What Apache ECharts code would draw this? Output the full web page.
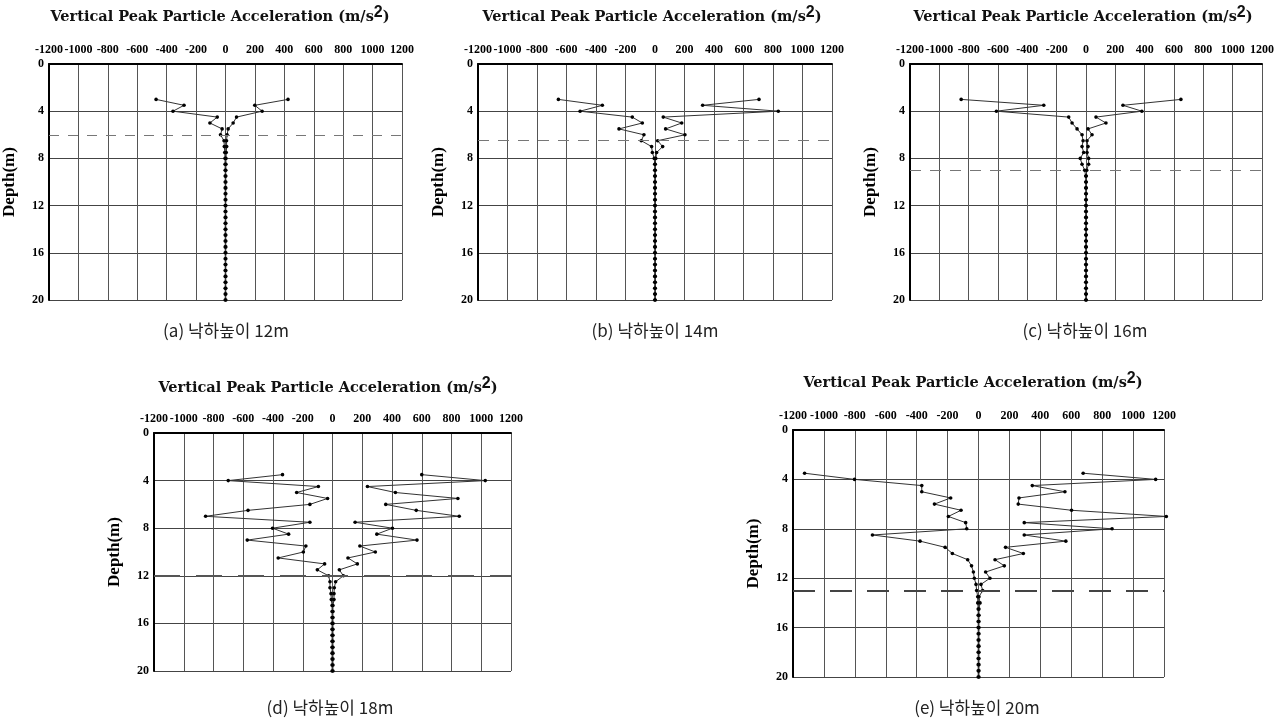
<!DOCTYPE html>
<html>
<head>
<meta charset="utf-8">
<script src="https://cdn.jsdelivr.net/npm/echarts@6/dist/echarts.min.js"></script>
<style>
html,body{margin:0;padding:0;background:#fff;}
#chart{width:1285px;height:724px;}
</style>
</head>
<body>
<div id="chart"></div>
<script>
// ---------- data ----------
const xTicks = [-1200, -1000, -800, -600, -400, -200, 0, 200, 400, 600, 800, 1000, 1200];
const depthTicks = [0, 4, 8, 12, 16, 20];

const depthsFrom3 = [3, 3.5, 4, 4.5, 5, 5.5, 6, 6.5, 7, 7.5, 8, 8.5, 9, 9.5, 10, 10.5, 11, 11.5, 12, 12.5, 13, 13.5, 14, 14.5, 15, 15.5, 16, 16.5, 17, 17.5, 18, 18.5, 19, 19.5, 20];
const depthsFrom35 = [3.5, 4, 4.5, 5, 5.5, 6, 6.5, 7, 7.5, 8, 8.5, 9, 9.5, 10, 10.5, 11, 11.5, 12, 12.5, 13, 13.5, 14, 14.5, 15, 15.5, 16, 16.5, 17, 17.5, 18, 18.5, 19, 19.5, 20];

// (a) 12m
const aNeg = [-472, -282, -357, -56, -106, -23, -34, -10, -8, -5, -3, -3, -2, -2, -2, -2, -2, -2, -2, -2, -2, -2, -2, -2, -2, -2, -2, -2, -2, -2, -2, -2, -2, -2, -2];
const aPos = [425, 199, 249, 75, 52, 18, 11, 7, 8, 5, 3, 3, 2, 2, 2, 2, 2, 2, 2, 2, 2, 2, 2, 2, 2, 2, 2, 2, 2, 2, 2, 2, 2, 2, 2];
// (b) 14m
const bNeg = [-655, -357, -508, -154, -86, -244, -75, -93, -23, -18, -5, -2, -2, -2, -2, -2, -2, -2, -2, -2, -2, -2, -2, -2, -2, -2, -2, -2, -2, -2, -2, -2, -2, -2, -2];
const bPos = [705, 323, 836, 56, 181, 72, 203, 18, 52, 11, 5, 2, 2, 2, 2, 2, 2, 2, 2, 2, 2, 2, 2, 2, 2, 2, 2, 2, 2, 2, 2, 2, 2, 2, 2];
// (c) 16m
const cNeg = [-851, -288, -611, -118, -95, -61, -27, -20, -27, -16, -39, -27, -9, -2, -2, -2, -2, -2, -2, -2, -2, -2, -2, -2, -2, -2, -2, -2, -2, -2, -2, -2, -2, -2, -2];
const cPos = [647, 252, 381, 68, 136, 14, 41, 7, 14, 7, 18, 18, 5, 2, 2, 2, 2, 2, 2, 2, 2, 2, 2, 2, 2, 2, 2, 2, 2, 2, 2, 2, 2, 2, 2];
// (d) 18m
const dNeg = [-336, -701, -95, -241, -33, -152, -568, -853, -152, -403, -295, -573, -179, -196, -365, -53, -102, -26, -17, -17, -10, -8, -3, -3, -3, -3, -3, -3, -3, -3, -3, -3, -3, -3];
const dPos = [600, 1027, 235, 423, 843, 358, 563, 852, 152, 403, 298, 568, 184, 288, 104, 167, 46, 73, 21, 12, 10, 10, 3, 3, 3, 3, 3, 3, 3, 3, 3, 3, 3, 3];
// (e) 20m
const eNeg = [-1125, -802, -367, -367, -180, -285, -113, -195, -83, -76, -686, -378, -216, -169, -70, -45, -33, -27, -16, -12, -5, -5, -2, -2, -2, -2, -2, -2, -2, -2, -2, -2, -2, -2];
const ePos = [677, 1146, 348, 559, 262, 257, 602, 1215, 296, 864, 296, 565, 175, 290, 107, 167, 46, 74, 16, 27, 3, 10, 3, 3, 3, 3, 3, 3, 3, 3, 3, 3, 3, 3];

const waterLevels = [6, 6.45, 9, 12, 13];
const captions = ['(a) 낙하높이 12m', '(b) 낙하높이 14m', '(c) 낙하높이 16m', '(d) 낙하높이 18m', '(e) 낙하높이 20m'];
const chartTitle = 'Vertical Peak Particle Acceleration (m/s';
const depthName = 'Depth(m)';

// ---------- layout ----------
const panels = [
  {depths: depthsFrom3,  neg: aNeg, pos: aPos, grid: {left: 48,  top: 64,  width: 354, height: 236}, titleX: 220, titleY: 15, capX: 226, capY: 331, dash: {type: [10, 9], color: '#777', width: 1.2}},
  {depths: depthsFrom3,  neg: bNeg, pos: bPos, grid: {left: 478, top: 64,  width: 354, height: 236}, titleX: 652, titleY: 15, capX: 655, capY: 331, dash: {type: [11, 9], color: '#777', width: 1.2}},
  {depths: depthsFrom3,  neg: cNeg, pos: cPos, grid: {left: 910, top: 64,  width: 352, height: 236}, titleX: 1083, titleY: 15, capX: 1085, capY: 331, dash: {type: [11, 9], color: '#777', width: 1.2}},
  {depths: depthsFrom35, neg: dNeg, pos: dPos, grid: {left: 154, top: 433, width: 357, height: 238}, titleX: 328, titleY: 386, capX: 330, capY: 708, dash: {type: [26, 16], color: '#555', width: 2}},
  {depths: depthsFrom35, neg: eNeg, pos: ePos, grid: {left: 793, top: 430, width: 371, height: 247}, titleX: 973, titleY: 381, capX: 977, capY: 708, dash: {type: [22, 15], color: '#444', width: 2}}
];

const serif = 'Liberation Serif';
const grids = [], xAxes = [], yAxes = [], series = [], graphics = [];
const plain = v => String(v);

panels.forEach((p, i) => {
  grids.push(Object.assign({containLabel: false}, p.grid));
  xAxes.push({
    type: 'value', gridIndex: i, position: 'top',
    min: xTicks[0], max: xTicks[xTicks.length - 1], interval: xTicks[1] - xTicks[0],
    axisLine: {show: true, onZero: false, lineStyle: {color: '#000', width: 2}},
    axisTick: {show: false},
    axisLabel: {margin: 8, color: '#000', fontFamily: serif, fontWeight: 'bold', fontSize: 12,
      formatter: plain, showMinLabel: true, showMaxLabel: true, hideOverlap: false},
    splitLine: {show: true, lineStyle: {color: '#555', width: 1}}
  });
  yAxes.push({
    type: 'value', gridIndex: i, inverse: true,
    min: depthTicks[0], max: depthTicks[depthTicks.length - 1], interval: depthTicks[1] - depthTicks[0],
    name: depthName, nameLocation: 'middle', nameGap: 31, nameRotate: 90,
    nameTextStyle: {color: '#000', fontFamily: serif, fontWeight: 'bold', fontSize: 17},
    axisLine: {show: true, onZero: false, lineStyle: {color: '#000', width: 2}},
    axisTick: {show: false},
    axisLabel: {margin: 5, color: '#000', fontFamily: serif, fontWeight: 'bold', fontSize: 12, formatter: plain},
    splitLine: {show: true, lineStyle: {color: '#444', width: 1}}
  });
  const common = {
    type: 'line', xAxisIndex: i, yAxisIndex: i, clip: false,
    symbol: 'circle', symbolSize: 3.6, showSymbol: true,
    itemStyle: {color: '#000'},
    lineStyle: {color: '#333', width: 1},
    animation: false, silent: true
  };
  series.push(Object.assign({}, common, {
    data: p.neg.map((v, k) => [v, p.depths[k]]),
    markLine: {
      silent: true, symbol: 'none', label: {show: false}, animation: false,
      lineStyle: p.dash,
      data: [{yAxis: waterLevels[i]}]
    }
  }));
  series.push(Object.assign({}, common, {
    data: p.pos.map((v, k) => [v, p.depths[k]])
  }));
  graphics.push({
    type: 'text', x: p.titleX, y: p.titleY,
    style: {
      text: '{m|' + chartTitle + '}{s|2}{m|)}',
      align: 'center', verticalAlign: 'middle',
      rich: {
        m: {fontFamily: 'DejaVu Serif', fontWeight: 'bold', fontSize: 14.5, fill: '#111', lineHeight: 20, verticalAlign: 'bottom'},
        s: {fontFamily: 'Liberation Sans', fontWeight: 'bold', fontSize: 16, fill: '#111', lineHeight: 12, verticalAlign: 'top'}
      }
    }
  });
  graphics.push({
    type: 'text', x: p.capX, y: p.capY,
    style: {
      text: captions[i], align: 'center', verticalAlign: 'middle',
      fontFamily: 'Noto Sans CJK KR', fontSize: 17, fill: '#222'
    }
  });
});

const chart = echarts.init(document.getElementById('chart'), null, {renderer: 'canvas'});
chart.setOption({
  backgroundColor: '#fff',
  animation: false,
  grid: grids,
  xAxis: xAxes,
  yAxis: yAxes,
  series: series,
  graphic: graphics
});
</script>
</body>
</html>
